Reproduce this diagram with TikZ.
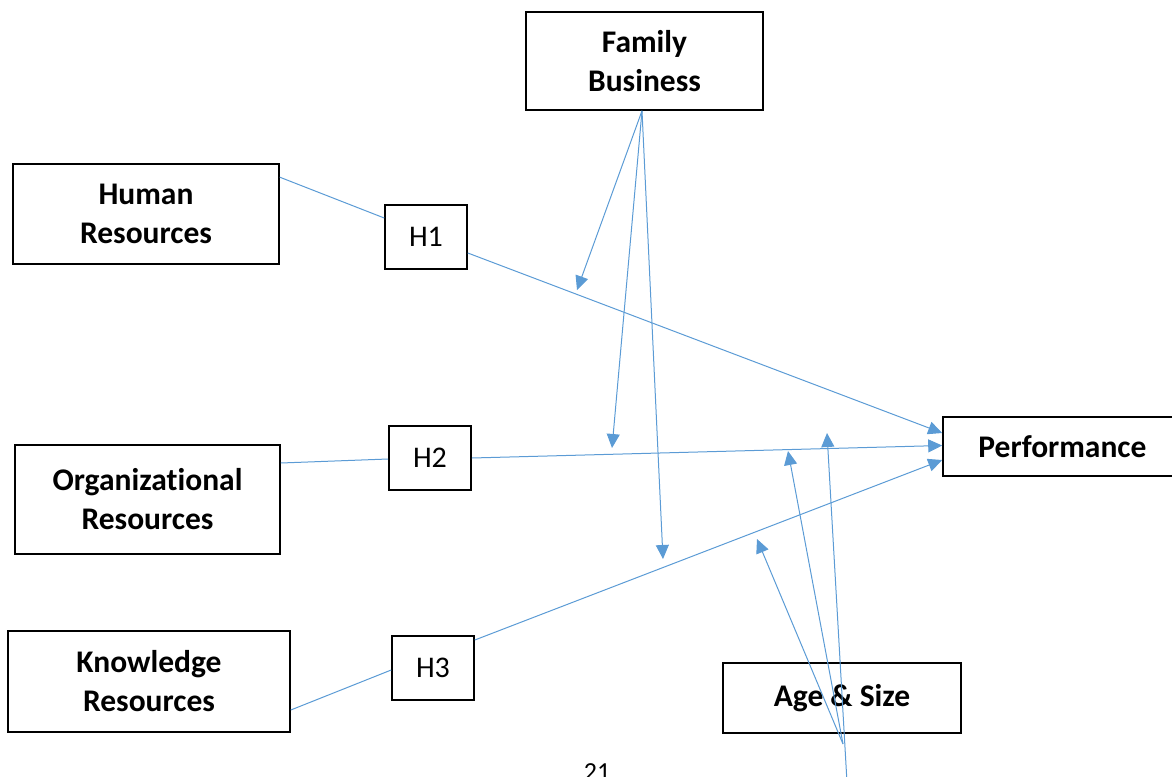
\documentclass[tikz,border=0pt]{standalone}
\usepackage{fontspec}
\setmainfont{Carlito}[Ligatures=NoCommon]
\usetikzlibrary{arrows.meta,calc}
\definecolor{lnblue}{RGB}{91,155,213}
\begin{document}
\begin{tikzpicture}[x=1pt,y=-1pt,
 box/.style={draw=black,line width=1.6pt,inner sep=0pt,align=center,font=\fontsize{31.5}{39}\selectfont\bfseries},
 hbox/.style={draw=black,line width=1.6pt,inner sep=0pt,minimum width=82pt,minimum height=64pt,font=\fontsize{30}{36}\selectfont},
 link/.style={draw=lnblue,line width=1pt},
 arr/.style={link,-{Triangle[length=14pt,width=13pt]}}]
\clip (0,0) rectangle (1172,776);
% boxes
\node[box,minimum width=237pt,minimum height=98pt] (fb) at (644.5,61) {Family\\Business};
\node[box,minimum width=266pt,minimum height=100pt] (hr) at (146,214) {Human\\Resources};
\node[hbox] (h1) at (426,237) {H1};
\node[box,minimum width=265pt,minimum height=109pt] (org) at (147.5,499.5) {Organizational\\Resources};
\node[hbox] (h2) at (430,458) {H2};
\node[box,minimum width=282pt,minimum height=101pt] (kr) at (149,681.5) {Knowledge\\Resources};
\node[hbox] (h3) at (433,668) {H3};
\node[box,minimum width=239pt,minimum height=59pt] (perf) at (1062.5,446.5) {Performance};
\node[box,minimum width=238pt,minimum height=70pt] (age) at (842,698) {Age \& Size};
\node[inner sep=0pt,anchor=north,font=\fontsize{26}{30}\selectfont] (pg) at (597,763) {21};
% free ends
\coordinate (m1) at (577,290);
\coordinate (m2) at (612,448);
\coordinate (m3) at (663,559);
\coordinate (m4) at (757,539);
\coordinate (m5) at (788,451);
\coordinate (m6) at (827,433);
\coordinate (ag) at (843,744);
\coordinate (agb) at (848,800);
% connectors
\draw[link] ([yshift=-14pt]hr.north east) -- ([yshift=19pt]h1.west);
\draw[arr] ([yshift=-16pt]h1.east) -- ([yshift=13.5pt]perf.west);
\draw[link] ([yshift=36.5pt]org.east) -- ([yshift=-1pt]h2.west);
\draw[arr] (h2.east) -- ([yshift=1pt]perf.west);
\draw[link] ([yshift=-28.5pt]kr.east) -- ([yshift=-2pt]h3.west);
\draw[arr] ([yshift=28pt]h3.east) -- ([yshift=-13.5pt]perf.west);
\draw[arr] ([xshift=-2.5pt]fb.south) -- (m1);
\draw[arr] ([xshift=-2.5pt]fb.south) -- (m2);
\draw[arr] ([xshift=-2.5pt]fb.south) -- (m3);
\draw[arr] (ag) -- (m4);
\draw[arr] (ag) -- (m5);
\draw[arr] (agb) -- (m6);
\end{tikzpicture}
\end{document}
